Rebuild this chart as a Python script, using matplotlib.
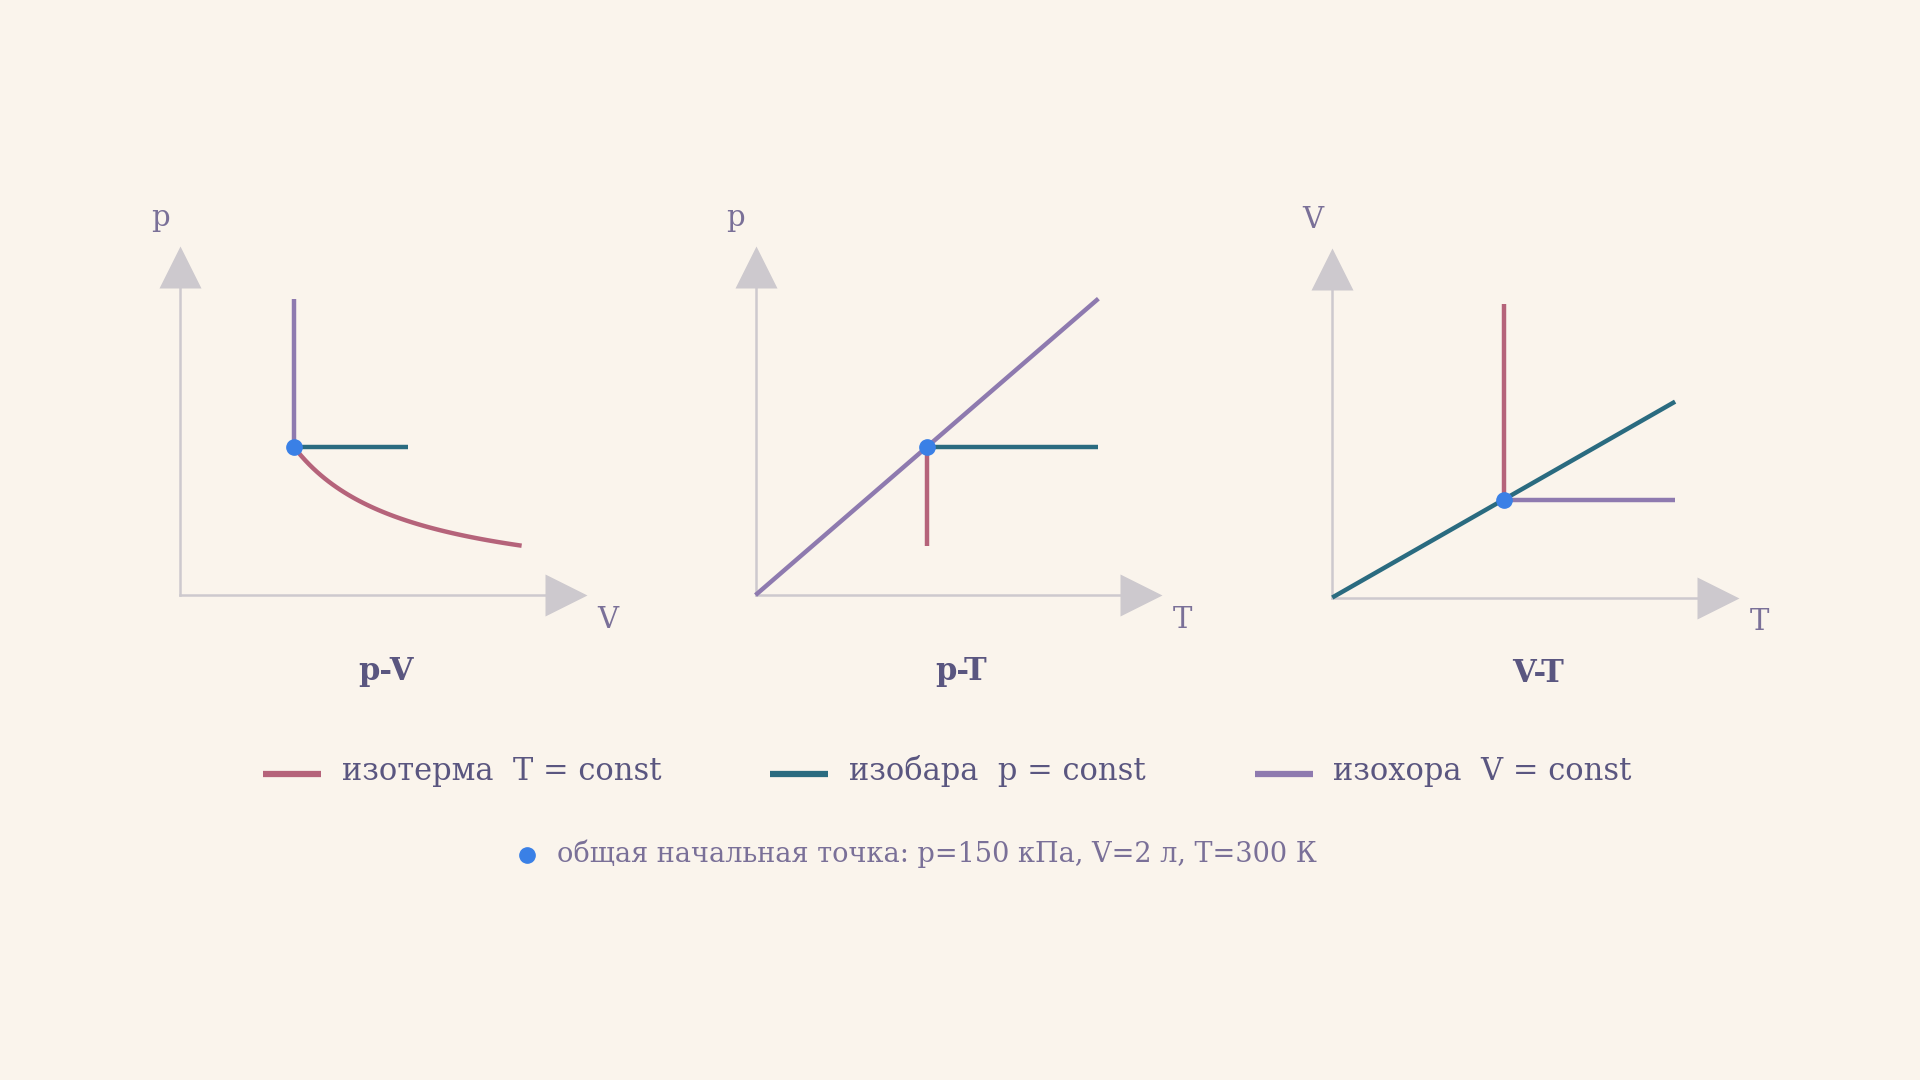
import matplotlib
matplotlib.use("Agg")
import matplotlib.pyplot as plt
import numpy as np

# ---- data ----
p0, V0, T0 = 150, 2, 300          # common start point (kPa, L, K)
# p-V panel (isotherm follows p*V = const)
pv_isotherm_V = np.linspace(2, 6, 60)
pv_isotherm_p = p0 * V0 / pv_isotherm_V
pv_isobar_V = [2, 4]; pv_isobar_p = [150, 150]
pv_isochore_V = [2, 2]; pv_isochore_p = [150, 300]
# p-T panel
pt_isochore_T = [0, 600]; pt_isochore_p = [0, 300]
pt_isobar_T = [300, 600]; pt_isobar_p = [150, 150]
pt_isotherm_T = [300, 300]; pt_isotherm_p = [150, 50]
# V-T panel
vt_isobar_T = [0, 600]; vt_isobar_V = [0, 4]
vt_isochore_T = [300, 600]; vt_isochore_V = [2, 2]
vt_isotherm_T = [300, 300]; vt_isotherm_V = [2, 6]

titles = ["p-V", "p-T", "V-T"]
xlabels = ["V", "T", "T"]
ylabels = ["p", "p", "V"]
legend_labels = ["изотерма  T = const", "изобара  p = const", "изохора  V = const"]
note = "общая начальная точка: p=150 кПа, V=2 л, T=300 К"

BG = "#FAF4EC"; C_T = "#B5637A"; C_P = "#2A6B80"; C_V = "#8E7AAF"
C_PT = "#3A80E6"; C_AX = "#CDC9CE"; C_TXT = "#5A5680"; C_LBL = "#7A7098"
FONT = "DejaVu Serif"
W, H = 1568, 882
LW = 3.2

fig = plt.figure(figsize=(19.2, 10.8), dpi=100, facecolor=BG)
bg = fig.add_axes([0, 0, 1, 1]); bg.set_xlim(0, W); bg.set_ylim(H, 0); bg.axis("off")
bg.set_facecolor(BG)

def panel(ox, oy, sx, sy, xlen, ylen):
    l, r, t, b = ox - 50, ox + 360, oy - 310, oy + 50
    ax = fig.add_axes([l / W, 1 - b / H, (r - l) / W, (b - t) / H])
    ax.set_xlim(-50 / sx, 360 / sx); ax.set_ylim(-50 / sy, 310 / sy)
    ax.axis("off"); ax.patch.set_alpha(0)
    xe, ye = xlen / sx, ylen / sy
    ax.plot([0, xe], [0, 0], color=C_AX, lw=1.8, zorder=1)
    ax.plot([0, 0], [0, ye], color=C_AX, lw=1.8, zorder=1)
    ax.plot([xe], [0], marker=">", ms=30, color=C_AX, mec="none", clip_on=False)
    ax.plot([0], [ye], marker="^", ms=30, color=C_AX, mec="none", clip_on=False)
    return ax

origins = [(147, 486), (617, 486), (1088, 488)]
scales = [(46.5, 0.807), (0.4667, 0.807), (0.4667, 40.0)]
axes = [panel(ox, oy, sx, sy, 315, 268) for (ox, oy), (sx, sy) in zip(origins, scales)]

kw = dict(lw=LW, solid_capstyle="butt", zorder=3)
a = axes[0]
a.plot(pv_isotherm_V, pv_isotherm_p, color=C_T, **kw)
a.plot(pv_isochore_V, pv_isochore_p, color=C_V, **kw)
a.plot(pv_isobar_V, pv_isobar_p, color=C_P, **kw)
a.plot([V0], [p0], "o", color=C_PT, ms=11, zorder=5)
a = axes[1]
a.plot(pt_isotherm_T, pt_isotherm_p, color=C_T, **kw)
a.plot(pt_isobar_T, pt_isobar_p, color=C_P, **kw)
a.plot(pt_isochore_T, pt_isochore_p, color=C_V, **kw)
a.plot([T0], [p0], "o", color=C_PT, ms=11, zorder=5)
a = axes[2]
a.plot(vt_isotherm_T, vt_isotherm_V, color=C_T, **kw)
a.plot(vt_isochore_T, vt_isochore_V, color=C_V, **kw)
a.plot(vt_isobar_T, vt_isobar_V, color=C_P, **kw)
a.plot([T0], [V0], "o", color=C_PT, ms=11, zorder=5)

for (ox, oy), t, xl, yl in zip(origins, titles, xlabels, ylabels):
    bg.text(ox + 168, oy + 62, t, ha="center", va="center", fontsize=22,
            fontweight="bold", color=C_TXT, family=FONT)
    bg.text(ox + 349, oy + 20, xl, ha="center", va="center", fontsize=21, color=C_LBL, family=FONT)
    bg.text(ox - 16, oy - 308, yl, ha="center", va="center", fontsize=21, color=C_LBL, family=FONT)

for x0, c, lab in zip([215, 629, 1025], [C_T, C_P, C_V], legend_labels):
    bg.plot([x0, x0 + 47], [632, 632], color=c, lw=4.5, solid_capstyle="butt")
    bg.text(x0 + 64, 630, lab, ha="left", va="center", fontsize=22, color=C_TXT, family=FONT)

bg.plot([430], [698], "o", color=C_PT, ms=11)
bg.text(455, 697, note, ha="left", va="center", fontsize=19.5, color=C_LBL, family=FONT)

fig.savefig("out.png", dpi=100, facecolor=BG)
